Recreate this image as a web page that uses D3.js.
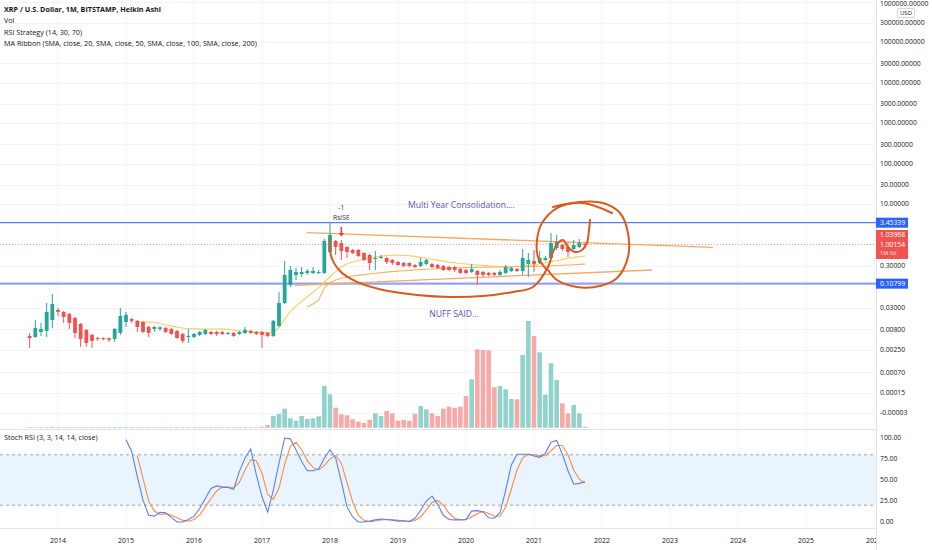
<!DOCTYPE html>
<html><head><meta charset="utf-8">
<script src="https://cdn.jsdelivr.net/npm/d3@7"></script>
<style>
html,body{margin:0;padding:0;background:#fff;}
svg{display:block;font-family:"Open Sans","Noto Sans",sans-serif;}
</style></head><body>
<svg id="c" width="932" height="550"></svg>
<script>
// ---------------- DATA ----------------
const firstBarYear = 2013, firstBarMonth = 8; // Aug 2013, monthly Heikin Ashi bars
const haOpen = [.00552,.00522,.00693,.00734,.0137,
.0242,.0216,.0193,.0154,.0109,.00777,.00585,.00493,.00493,.00485,.00466,.00655,
.0122,.0145,.0130,.0122,.00921,.00822,.00822,.00870,.00822,.00734,.00619,.00522,
.00522,.00585,.00619,.00693,.00693,.00693,.00619,.00655,.00619,.00655,.00734,.00693,
.00693,.00655,.00552,.00975,.0360,.1002,.177,.187,.198,.198,.198,.198,
.653,1.22,1.089,.868,.732,.732,.617,.551,.439,.464,.464,.415,
.370,.350,.350,.312,.295,.330,.330,.312,.295,.278,.278,.249,
.235,.210,.222,.210,.198,.198,.177,.198,.222,.249,.222,.330,
.392,.350,.415,.464,.820,.972,.868,.774,.868,1.029];
const haHigh = [.00655,.0137,.0116,.0360,.0601,
.0271,.0229,.0204,.0163,.0116,.00822,.00619,.00522,.00510,.00505,.00870,.0271,
.0216,.0154,.0137,.0130,.00975,.00975,.00975,.00921,.00870,.00777,.00655,.00822,
.00655,.00734,.00822,.00734,.00734,.00734,.00693,.00693,.00734,.00921,.00777,.00734,
.00734,.00693,.0137,.0673,.392,.295,.263,.278,.249,.278,.235,1.367,
3.394,1.291,1.291,.918,.774,.774,.653,.583,.691,.551,.492,.439,
.392,.370,.355,.330,.464,.439,.350,.330,.312,.295,.295,.263,
.249,.330,.235,.222,.210,.210,.235,.312,.278,.263,.774,.617,
.732,.691,.520,1.922,1.716,1.029,1.153,1.291,1.367,1.089];
const haLow = [.00279,.00493,.00552,.00522,.00870,
.0172,.0116,.00822,.00493,.00296,.00296,.00279,.00416,.00430,.00393,.00393,.00585,
.00921,.0116,.00693,.00655,.00522,.00693,.00734,.00655,.00585,.00466,.00371,.00371,
.00493,.00552,.00585,.00585,.00552,.00585,.00585,.00522,.00585,.00619,.00619,.00585,
.00279,.00522,.00522,.00921,.0340,.0894,.133,.158,.177,.187,.187,.187,
.617,.551,.415,.464,.583,.492,.392,.235,.235,.439,.330,.312,
.295,.278,.278,.263,.278,.312,.263,.249,.222,.222,.210,.187,
.187,.198,.1002,.158,.167,.167,.167,.187,.210,.210,.177,.158,
.210,.330,.392,.439,.732,.691,.492,.732,.820,.918];
const haClose = [.00493,.00870,.00822,.0216,.0340,
.0216,.0163,.0116,.00655,.00466,.00371,.00416,.00466,.00460,.00440,.00822,.0172,
.0182,.0130,.00921,.00693,.00655,.00921,.00900,.00693,.00619,.00493,.00416,.00552,
.00619,.00693,.00777,.00619,.00619,.00619,.00655,.00552,.00693,.00777,.00655,.00619,
.00585,.00552,.0130,.0360,.177,.235,.210,.210,.222,.222,.210,1.22,
1.716,.868,.691,.653,.617,.520,.415,.350,.464,.492,.370,.350,
.312,.295,.295,.278,.370,.415,.278,.263,.235,.235,.235,.198,
.198,.249,.177,.177,.177,.177,.210,.278,.263,.222,.464,.415,
.330,.464,.464,1.089,1.153,.774,.653,.972,1.089,.972];
const volume = [4,5,5,7,9,
7,6,5,5,6,5,4,4,4,4,6,8,
7,5,5,4,4,4,4,4,4,5,5,5,
4,4,5,4,4,4,4,4,4,5,4,4,
10,27,117,137,190,94,70,117,87,94,114,417,
334,200,134,124,84,60,47,80,144,117,167,144,
70,77,67,140,217,184,144,117,190,210,197,210,
317,484,784,777,774,404,417,384,287,284,727,1067,
917,754,330,644,477,244,144,227,144,10];
const sma20Start = [2015, 3];
const sma20 = [.0122,.0122,.0121,.0120,.0112,.0103,.00965,.00911,.00865,.00835,
.00830,.00826,.00822,.00817,.00817,.00813,.00808,.00777,.00738,.00722,.00710,.00686,
.00666,.00670,.00693,.00880,.0145,.0224,.0301,.0399,.0513,.0665,.0860,.117,
.160,.217,.284,.334,.368,.403,.434,.464,.494,.514,.532,.551,
.545,.538,.529,.508,.480,.459,.434,.411,.388,.368,.354,.340,
.330,.321,.312,.305,.296,.291,.287,.284,.284,.289,.295,.305,
.315,.330,.354,.383,.397,.429,.456,.480,.503,.520];
const sma50Start = [2017, 9];
const sma50 = [.0287,.0340,.0427,.0845,
.1155,.133,.145,.158,.167,.173,.180,.187,.195,.202,.208,.214,
.220,.225,.230,.235,.240,.244,.249,.252,.257,.260,.263,.266,
.269,.272,.274,.275,.277,.278,.278,.280,.282,.283,.285,.287,
.288,.290,.294,.297,.303,.308,.312,.317,.323,.328];
const stochKStart = [2015, 1];
const stochK = [98,84,54,26,8,7,11.5,11,5.5,0,0,3,
7,16,28,40,43,41.5,41,39,60,76,87,56,
30,12,38,70,100,99,86,72,61,61,63,76,
86,76,48,18,6,0,0,1,2.5,3.5,3,2,
1,1.5,0.5,4.4,14,25,31,21,8,3,2.5,2.5,
3,13,13.5,12,5,4.5,11,38,68,80.6,80.6,80.6,
78.6,77,81.7,95,97,81,61,45,46,48];
const stochDStart = [2015, 3];
const stochD = [79,52,25,13,9,10,8,5,2,1,
3,8.5,18,28,37,41.5,42,40.5,47,62,74,73,
58,33,27,40,69,90,95,86,73,65,62,67,
75,79,70,47,24,8,2,0.3,1.2,2.3,3,2.8,
2,1,0.7,1.7,6.2,14.5,23.3,25.7,20,10.7,4.5,2.7,
2.7,6.2,9.8,12.8,10.2,7.2,6.8,17.8,39,62,76.4,80.6,
80,78.7,79,84.6,91,91,80,62,51,46.3];
const yearTicks = [2014,2015,2016,2017,2018,2019,2020,2021,2022,2023,2024,2025,2026];
const priceTickValues = [1e6,3e5,1e5,3e4,1e4,3000,1000,300,100,30,10,0.3];
const priceTickLabels = ["1000000.00000","300000.00000","100000.00000","30000.00000","10000.00000","3000.00000","1000.00000","300.00000","100.00000","30.00000","10.00000","0.30000"];
const volTickValues = [0.0272,0.008,0.0025,0.0007,0.000215,0.0000692];
const volTickLabels = ["0.03000","0.00800","0.00250","0.00070","0.00015","-0.00003"];
const stochTicks = [100,75,50,25,0];
const stochBand = [20,80];
const hLines = [3.45339, 0.10799];
const lastPrice = 1.00154;
const lastLabels = ["1.03968","1.00154","1M 0d"];
const legendLines = ["XRP / U.S. Dollar, 1M, BITSTAMP, Heikin Ashi","Vol","RSI Strategy (14, 30, 70)","MA Ribbon (SMA, close, 20, SMA, close, 50, SMA, close, 100, SMA, close, 200)"];
const stochLegend = "Stoch RSI (3, 3, 14, 14, close)";
// drawings: [decimal year, price]
const upperTrend = [[2017.662,1.956],[2023.632,0.853]];
const lowerTrend = [[2017.485,0.0977],[2022.735,0.2346]];
const brushLoop = [[2018.000,1.29],[2018.015,0.52],[2018.147,0.222],[2018.397,0.119],[2018.779,0.0754],[2019.279,0.0568],[2019.765,0.0507],[2020.250,0.0536],[2020.691,0.0673],[2020.985,0.0894],[2021.206,0.278],[2021.279,0.653],[2021.353,1.089],[2021.426,1.291],[2021.500,0.868],[2021.603,0.653],[2021.706,0.732],[2021.779,1.089],[2021.809,2.28],[2021.824,4.03]];
const brushCircle = [[2021.206,0.235],[2021.338,0.133],[2021.632,0.0894],[2021.971,0.0946],[2022.221,0.149],[2022.382,0.492],[2022.382,1.922],[2022.265,5.99],[2022.015,10.59],[2021.676,11.2],[2021.338,7.96],[2021.118,3.394],[2021.044,1.291],[2021.059,0.492],[2021.191,0.235]];
const brushTail = [[2021.279,8.43],[2021.721,10.59],[2022.147,5.99]];
const notes = [{text:"Multi Year Consolidation....", t:2019.934, p:9.43},{text:"NUFF SAID...", t:2019.824, p:0.0192}];
const signal = {t:2018+2/12, p:1.291, labels:["-1","RsiSE"]};

// ---------------- LAYOUT ----------------
const W=932, H=550, plotR=876, mainB=429, stochT=430, stochB=528;
const svg = d3.select("#c");
const x = d3.scaleLinear().domain([2014,2026]).range([58,874]);
const y = d3.scaleLog().domain([1e-5,1e6]).range([447,1.5]);
const yV = d3.scaleLinear().domain([0,1100]).range([427.7,317.7]);
const yS = d3.scaleLinear().domain([0,100]).range([522,438]);
const tOf = (yr,m,i)=> yr + (m-1+i)/12;

const defs = svg.append("defs");
defs.append("clipPath").attr("id","cm").append("rect").attr("x",0).attr("y",0).attr("width",plotR).attr("height",mainB);
defs.append("clipPath").attr("id","cs").append("rect").attr("x",0).attr("y",stochT).attr("width",plotR).attr("height",stochB-stochT);

svg.append("rect").attr("width",W).attr("height",H).attr("fill","#fff");

// grid
const grid = svg.append("g");
grid.selectAll(".vg").data(yearTicks).join("line")
  .attr("x1",d=>x(d)).attr("x2",d=>x(d)).attr("y1",0).attr("y2",stochB)
  .attr("stroke","#f2f3f6").attr("stroke-width",1);
grid.selectAll(".hg").data(priceTickValues.concat(volTickValues)).join("line")
  .attr("x1",0).attr("x2",plotR).attr("y1",d=>Math.round(y(d))+0.5).attr("y2",d=>Math.round(y(d))+0.5)
  .attr("stroke","#f3f4f7");

const main = svg.append("g").attr("clip-path","url(#cm)");
const bars = haOpen.map((o,i)=>({t:tOf(firstBarYear,firstBarMonth,i),o,h:haHigh[i],l:haLow[i],c:haClose[i],v:volume[i]}));
const up = d=>d.c>=d.o;

// volume
main.selectAll(".vol").data(bars).join("rect")
  .attr("x",d=>x(d.t)-2.3).attr("width",4.6)
  .attr("y",d=>yV(d.v)).attr("height",d=>Math.max(0.6,yV(0)-yV(d.v)))
  .attr("fill",d=>up(d)?"#92d2cc":"#f7a9a7");

// horizontal lines
main.append("line").attr("x1",0).attr("x2",plotR).attr("y1",y(hLines[0])).attr("y2",y(hLines[0])).attr("stroke","#5b7cf3").attr("stroke-width",1.2);
main.append("line").attr("x1",0).attr("x2",plotR).attr("y1",y(hLines[1])).attr("y2",y(hLines[1])).attr("stroke","#93a5f2").attr("stroke-width",2.4);
// last price dotted line
main.append("line").attr("x1",0).attr("x2",plotR).attr("y1",y(lastPrice)).attr("y2",y(lastPrice)).attr("stroke","#f19c9a").attr("stroke-dasharray","1,2").attr("stroke-width",1);

const line = d3.line().x(d=>x(d[0])).y(d=>y(d[1]));
// trend lines
[upperTrend,lowerTrend].forEach(tl=>main.append("path").attr("d",line(tl)).attr("fill","none").attr("stroke","#f5a862").attr("stroke-width",1.3));

// MAs
const maLine = d3.line().x(d=>x(d.t)).y(d=>y(d.v));
main.append("path").attr("d",maLine(sma20.map((v,i)=>({t:tOf(sma20Start[0],sma20Start[1],i),v}))))
  .attr("fill","none").attr("stroke","#f6cf5c").attr("stroke-width",1.1);
main.append("path").attr("d",maLine(sma50.map((v,i)=>({t:tOf(sma50Start[0],sma50Start[1],i),v}))))
  .attr("fill","none").attr("stroke","#f8b25e").attr("stroke-width",1.1);

// candles
const cg = main.append("g");
cg.selectAll(".wick").data(bars).join("line")
  .attr("x1",d=>x(d.t)).attr("x2",d=>x(d.t)).attr("y1",d=>y(d.h)).attr("y2",d=>y(d.l))
  .attr("stroke",d=>up(d)?"#26a69a":"#ef5350").attr("stroke-width",1);
cg.selectAll(".body").data(bars).join("rect")
  .attr("x",d=>x(d.t)-1.9).attr("width",3.8)
  .attr("y",d=>y(Math.max(d.o,d.c))).attr("height",d=>Math.max(1,Math.abs(y(d.o)-y(d.c))))
  .attr("fill",d=>up(d)?"#26a69a":"#ef5350");

// brush drawings
const brush = d3.line().x(d=>x(d[0])).y(d=>y(d[1])).curve(d3.curveCatmullRom.alpha(0.5));
[brushLoop,brushCircle,brushTail].forEach(b=>main.append("path").attr("d",brush(b)).attr("fill","none")
  .attr("stroke","#dc581c").attr("stroke-width",2).attr("stroke-linecap","round").attr("stroke-linejoin","round"));

// signal marker
const sx = x(signal.t), sy = y(signal.p);
main.append("line").attr("x1",sx).attr("x2",sx).attr("y1",sy-13).attr("y2",sy-6).attr("stroke","#f23645").attr("stroke-width",1.6);
main.append("path").attr("d",`M${sx-2.8},${sy-7}L${sx+2.8},${sy-7}L${sx},${sy-3.5}Z`).attr("fill","#f23645");
main.append("text").attr("x",sx).attr("y",sy-30).attr("text-anchor","middle").attr("font-size",6.8).attr("fill","#333").text(signal.labels[0]);
main.append("text").attr("x",sx).attr("y",sy-20.5).attr("text-anchor","middle").attr("font-size",6.8).attr("fill","#333").text(signal.labels[1]);

// notes
notes.forEach(n=>main.append("text").attr("x",x(n.t)).attr("y",y(n.p)).attr("dy","0.35em").attr("text-anchor","middle")
  .attr("font-size",8.6).attr("fill","#6650ae").text(n.text));

// legend
const lg = svg.append("g").attr("font-size",7.2).attr("fill","#131722");
legendLines.forEach((t,i)=>lg.append("text").attr("x",4).attr("y",12+i*11.3).attr("font-weight",i===0?"700":"400").text(t));

// ----- Stoch pane -----
const sp = svg.append("g").attr("clip-path","url(#cs)");
sp.append("rect").attr("x",0).attr("width",plotR).attr("y",yS(stochBand[1])).attr("height",yS(stochBand[0])-yS(stochBand[1])).attr("fill","#eaf4fe");
stochBand.forEach(v=>sp.append("line").attr("x1",0).attr("x2",plotR).attr("y1",yS(v)).attr("y2",yS(v)).attr("stroke","#9598a1").attr("stroke-dasharray","3,3").attr("stroke-width",0.9));
const sLine = d3.line().x(d=>x(d.t)).y(d=>yS(d.v));
sp.append("path").attr("d",sLine(stochD.map((v,i)=>({t:tOf(stochDStart[0],stochDStart[1],i),v})))).attr("fill","none").attr("stroke","#ff8a3d").attr("stroke-width",1.1);
sp.append("path").attr("d",sLine(stochK.map((v,i)=>({t:tOf(stochKStart[0],stochKStart[1],i),v})))).attr("fill","none").attr("stroke","#5b7ff5").attr("stroke-width",1.1);
svg.append("text").attr("x",4).attr("y",439.5).attr("font-size",7.2).attr("fill","#131722").text(stochLegend);

// separators
svg.append("line").attr("x1",0).attr("x2",W).attr("y1",mainB+0.5).attr("y2",mainB+0.5).attr("stroke","#e0e3eb");
svg.append("line").attr("x1",0).attr("x2",W).attr("y1",stochB+0.5).attr("y2",stochB+0.5).attr("stroke","#e0e3eb");

// time axis
svg.append("g").selectAll("text").data(yearTicks).join("text")
  .attr("x",d=>x(d)).attr("y",542.5).attr("text-anchor","middle").attr("font-size",7).attr("fill","#131722").text(d=>d);

// price axis
const pa = svg.append("g");
pa.append("rect").attr("x",plotR).attr("y",0).attr("width",W-plotR).attr("height",H).attr("fill","#fff");
pa.append("line").attr("x1",plotR+0.5).attr("x2",plotR+0.5).attr("y1",0).attr("y2",H).attr("stroke","#e0e3eb");
pa.selectAll(".pt").data(priceTickValues).join("text").attr("x",880).attr("y",d=>Math.max(4,y(d))).attr("dy","0.35em")
  .attr("font-size",6.8).attr("fill","#131722").text((d,i)=>priceTickLabels[i]);
pa.selectAll(".vt").data(volTickValues).join("text").attr("x",880).attr("y",d=>y(d)).attr("dy","0.35em")
  .attr("font-size",6.8).attr("fill","#131722").text((d,i)=>volTickLabels[i]);
pa.selectAll(".st").data(stochTicks).join("text").attr("x",880).attr("y",d=>yS(d)).attr("dy","0.35em")
  .attr("font-size",6.8).attr("fill","#131722").text(d=>d.toFixed(2));
// USD box
pa.append("rect").attr("x",897.5).attr("y",8.5).attr("width",17).attr("height",9).attr("fill","#fff").attr("stroke","#d1d4dc").attr("rx",1.5);
pa.append("text").attr("x",906).attr("y",13).attr("dy","0.35em").attr("text-anchor","middle").attr("font-size",6).attr("fill","#131722").text("USD");
// blue value labels
hLines.forEach(v=>{
  pa.append("rect").attr("x",876).attr("y",y(v)-5).attr("width",32).attr("height",10).attr("fill","#2962ff");
  pa.append("text").attr("x",880).attr("y",y(v)).attr("dy","0.35em").attr("font-size",6.8).attr("fill","#fff").text(v.toFixed(5));
});
// last price box
const ly = y(lastPrice);
pa.append("rect").attr("x",876).attr("y",ly-14.5).attr("width",32).attr("height",29).attr("fill","#ef5350");
pa.append("text").attr("x",880).attr("y",ly-9.5).attr("dy","0.35em").attr("font-size",6.8).attr("fill","#fff").text(lastLabels[0]);
pa.append("text").attr("x",880).attr("y",ly+0.5).attr("dy","0.35em").attr("font-size",6.8).attr("fill","#fff").text(lastLabels[1]);
pa.append("text").attr("x",880).attr("y",ly+9).attr("dy","0.35em").attr("font-size",5.6).attr("fill","#fde0df").text(lastLabels[2]);
</script>
</body></html>
